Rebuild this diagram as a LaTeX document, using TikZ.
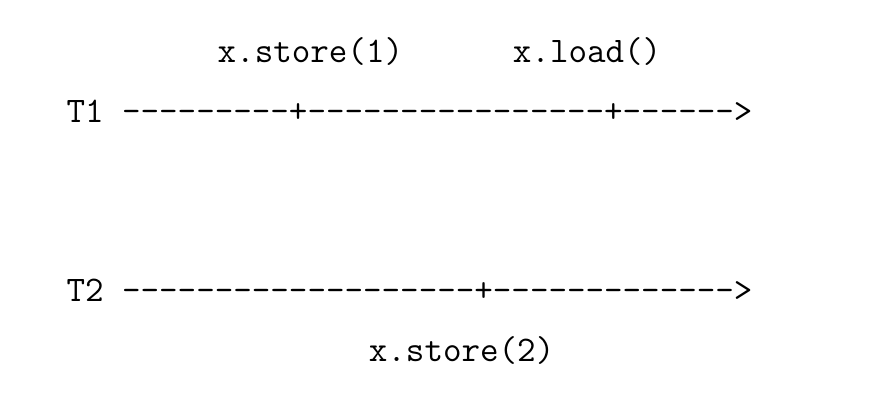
\documentclass[tikz,border=0pt]{standalone}
\begin{document}
\begin{tikzpicture}[x=0.5pt,y=-0.5pt,
  ascii/.style={anchor=base west,inner sep=0pt,outer sep=0pt,
    font=\fontsize{18}{20}\selectfont\ttfamily}]
\useasboundingbox (0,0) rectangle (894,410);
\def\cw{18.9}
\def\ox{66.5}
\node[ascii] (l1) at (\ox+8*\cw,63) {x.store(1)};
\node[ascii] (l2) at (\ox+23.62*\cw,63) {x.load()};
\node[ascii] (t1) at (\ox,123) {T1 ---------+----------------+------>};
\node[ascii] (t2) at (\ox,302) {T2 -------------------+------------->};
\node[ascii] (l3) at (\ox+16*\cw,362) {x.store(2)};
\end{tikzpicture}
\end{document}
